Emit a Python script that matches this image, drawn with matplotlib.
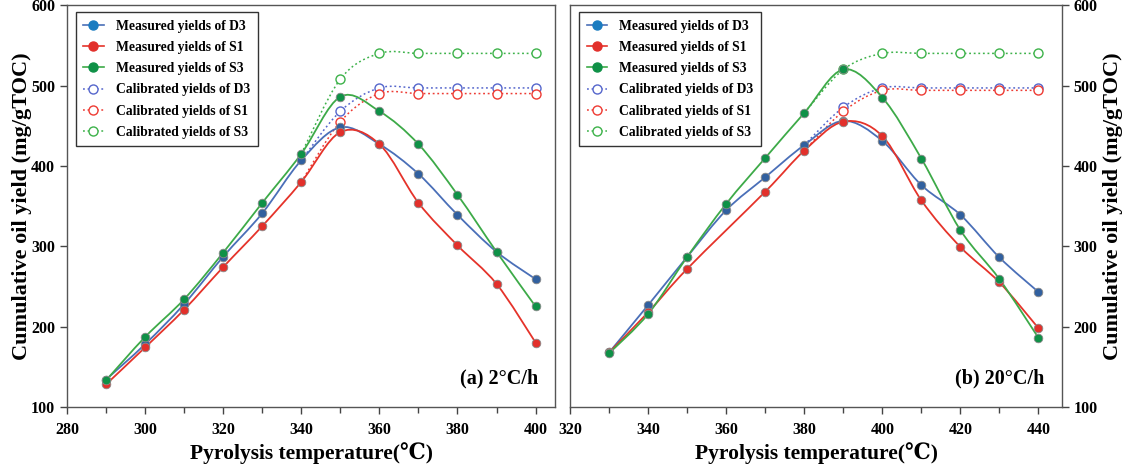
import numpy as np
import matplotlib
matplotlib.use("Agg")
import matplotlib.pyplot as plt
from matplotlib.path import Path
from matplotlib.patches import PathPatch
from matplotlib.lines import Line2D
from matplotlib.ticker import MultipleLocator

plt.rcParams['font.family'] = ['Liberation Serif', 'DejaVu Serif', 'DejaVu Sans']
plt.rcParams['font.weight'] = 'bold'

# ---------------- data ----------------
temp_a = [290, 300, 310, 320, 330, 340, 350, 360, 370, 380, 390, 400]
d3_a = [134, 178, 228, 287, 341, 407, 448, 427, 390, 339, 293, 259]
s1_a = [128, 174, 221, 274, 325, 380, 442, 427, 354, 301, 253, 180]
s3_a = [133, 187, 234, 292, 354, 415, 486, 468, 427, 364, 293, 225]
cal_temp_a = [340, 350, 360, 370, 380, 390, 400]
cal_d3_a = [407, 468, 497, 497, 497, 497, 497]
cal_s1_a = [380, 455, 490, 490, 490, 490, 490]
cal_s3_a = [415, 508, 540, 540, 540, 540, 540]

temp_b = [330, 340, 350, 360, 370, 380, 390, 400, 410, 420, 430, 440]
d3_b = [168, 227, 287, 345, 386, 426, 456, 431, 376, 339, 286, 243]
s1_b = [168, 218, 272, np.nan, 368, 419, 455, 437, 357, 299, 255, 198]
s3_b = [167, 216, 287, 353, 410, 466, 520, 485, 409, 320, 259, 186]
cal_temp_b = [380, 390, 400, 410, 420, 430, 440]
cal_d3_b = [426, 473, 497, 497, 497, 497, 497]
cal_s1_b = [419, 468, 494, 494, 494, 494, 494]
cal_s3_b = [466, 520, 540, 540, 540, 540, 540]

labels = ["Measured yields of D3", "Measured yields of S1", "Measured yields of S3",
          "Calibrated yields of D3", "Calibrated yields of S1", "Calibrated yields of S3"]
panel_texts = ["(a) 2°C/h", "(b) 20°C/h"]

# ---------------- styles ----------------
line_cols = ['#4A6FB8', '#E5332A', '#3DAA48']
mark_cols = ['#31609F', '#E2302B', '#0F9147']
leg_mark_cols = ['#1B7CC0', '#E2302B', '#0F9147']
cal_cols = ['#5566CC', '#EE3B33', '#3DB24A']


def smooth_path(x, y):
    x = np.asarray(x, float)
    y = np.asarray(y, float)
    ok = ~np.isnan(y)
    pts = np.column_stack([x[ok], y[ok]])
    n = len(pts)
    verts = [pts[0]]
    codes = [Path.MOVETO]
    for i in range(n - 1):
        p0 = pts[i - 1] if i > 0 else pts[i]
        p1 = pts[i]
        p2 = pts[i + 1]
        p3 = pts[i + 2] if i + 2 < n else pts[i + 1]
        c1 = p1 + (p2 - p0) / 6.0
        c2 = p2 - (p3 - p1) / 6.0
        verts += [c1, c2, p2]
        codes += [Path.CURVE4] * 3
    return Path(verts, codes)


def draw_panel(ax, temp, meas, cal_temp, cals, xlim, text):
    for c, cy in zip(cal_cols, cals):
        ax.add_patch(PathPatch(smooth_path(cal_temp, cy), fill=False, edgecolor=c,
                               lw=1.1, ls=(0, (1.2, 1.8)), zorder=2))
        ax.plot(cal_temp[1:], cy[1:], ls='none', marker='o', ms=6.5,
                mfc='white', mec=c, mew=1.0, zorder=3)
    for lc, mc, my in zip(line_cols, mark_cols, meas):
        ax.add_patch(PathPatch(smooth_path(temp, my), fill=False, edgecolor=lc,
                               lw=1.3, zorder=4))
        ax.plot(temp, my, ls='none', marker='o', ms=6.2, mfc=mc, mec='#8a8a8a',
                mew=0.6, zorder=5)
    ax.set_xlim(*xlim)
    ax.set_ylim(100, 600)
    ax.xaxis.set_major_locator(MultipleLocator(20))
    ax.xaxis.set_minor_locator(MultipleLocator(10))
    ax.yaxis.set_major_locator(MultipleLocator(100))
    ax.tick_params(axis='both', which='major', direction='out', length=5,
                   width=1, colors='#444444', labelcolor='black', labelsize=11.5)
    ax.tick_params(axis='x', which='minor', direction='out', length=4,
                   width=1, colors='#444444')
    ax.tick_params(axis='x', which='major', pad=6)
    for sp in ax.spines.values():
        sp.set_color('#555555')
        sp.set_linewidth(1.0)
    for lab in ax.get_xticklabels() + ax.get_yticklabels():
        lab.set_fontweight('bold')
    ax.set_xlabel("Pyrolysis temperature(℃)", fontsize=15.5, fontweight='bold', labelpad=3)
    ax.set_ylabel("Cumulative oil yield (mg/gTOC)", fontsize=16, fontweight='bold', labelpad=-1)
    ax.text(0.965, 0.07, text, transform=ax.transAxes, ha='right', va='center',
            fontsize=14.5, fontweight='bold')

    handles = []
    for lc, mc in zip(line_cols, leg_mark_cols):
        handles.append(Line2D([], [], color=lc, lw=1.2, marker='o', ms=6.5,
                              mfc=mc, mec=mc))
    for c in cal_cols:
        handles.append(Line2D([], [], color=c, lw=1.1, ls=(0, (1.2, 1.8)), marker='o',
                              ms=6.5, mfc='white', mec=c, mew=1.0))
    leg = ax.legend(handles, labels, loc='upper left', bbox_to_anchor=(0.018, 0.982),
                    borderaxespad=0, fancybox=False, framealpha=1, edgecolor='#333333',
                    prop={'weight': 'bold', 'size': 9.8}, handlelength=1.5,
                    handletextpad=0.9, labelspacing=0.6, borderpad=0.55)
    leg.get_frame().set_linewidth(1.0)


fig = plt.figure(figsize=(11.26, 4.72), dpi=100)
ax1 = fig.add_axes([0.0595, 0.138, 0.4335, 0.851])
ax2 = fig.add_axes([0.5065, 0.138, 0.4365, 0.851])

draw_panel(ax1, temp_a, [d3_a, s1_a, s3_a], cal_temp_a,
           [cal_d3_a, cal_s1_a, cal_s3_a], (280, 405), panel_texts[0])
draw_panel(ax2, temp_b, [d3_b, s1_b, s3_b], cal_temp_b,
           [cal_d3_b, cal_s1_b, cal_s3_b], (320, 446), panel_texts[1])

ax2.yaxis.tick_right()
ax2.yaxis.set_label_position('right')
ax2.set_ylabel("Cumulative oil yield (mg/gTOC)", fontsize=16, fontweight='bold',
               labelpad=4, rotation=90)

fig.savefig("out.png", dpi=100)
